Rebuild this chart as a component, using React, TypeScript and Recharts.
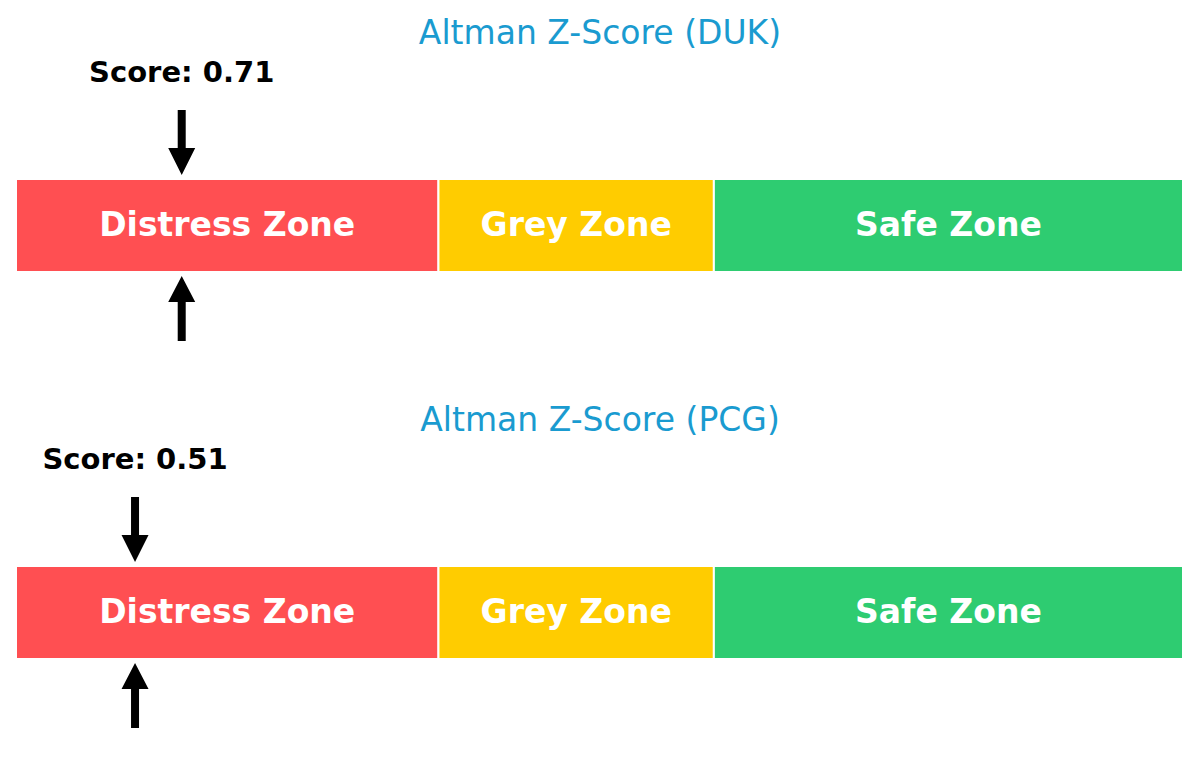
import React from 'react';
import { BarChart, Bar, XAxis, YAxis, ReferenceLine, LabelList } from 'recharts';

const companies = ['DUK', 'PCG'];
const scores = [0.71, 0.51];
const zoneKeys = ['distress', 'grey', 'safe'];
const zoneNames = ['Distress Zone', 'Grey Zone', 'Safe Zone'];
// Altman thresholds 1.81 and 2.99, scale ends at 5
const zoneWidths = [1.81, 1.18, 2.01];
const zoneColors = ['#ff4f52', '#ffcc00', '#2ecc71'];
const scaleMax = 5;

const FONT = '"DejaVu Sans", Verdana, sans-serif';

const zoneLabel = (text: string) => (props: any) => {
  const { x, y, width, height } = props;
  return (
    <text
      x={Number(x) + Number(width) / 2}
      y={Number(y) + Number(height) / 2 + 10}
      textAnchor="middle"
      fill="#ffffff"
      fontFamily={FONT}
      fontWeight="bold"
      fontSize={33}
    >
      {text}
    </text>
  );
};

// arrows above and below the bar, pointing at the score
const ScoreMarker = (props: any) => {
  const { x1, y1, y2, score } = props;
  const cx = Number(x1);
  const top = Math.min(Number(y1), Number(y2));
  const bot = Math.max(Number(y1), Number(y2));
  const down = `M${cx - 4},${top - 69} L${cx + 4},${top - 69} L${cx + 4},${top - 31} L${cx + 13.5},${top - 31} L${cx},${top - 4} L${cx - 13.5},${top - 31} L${cx - 4},${top - 31} Z`;
  const up = `M${cx - 4},${bot + 69} L${cx + 4},${bot + 69} L${cx + 4},${bot + 30} L${cx + 13.5},${bot + 30} L${cx},${bot + 4} L${cx - 13.5},${bot + 30} L${cx - 4},${bot + 30} Z`;
  return (
    <g>
      <text
        x={cx}
        y={top - 97}
        textAnchor="middle"
        fill="#000"
        fontFamily={FONT}
        fontWeight="bold"
        fontSize={29}
      >
        {`Score: ${score.toFixed(2)}`}
      </text>
      <path d={down} fill="#000" />
      <path d={up} fill="#000" />
    </g>
  );
};

const ZonePanel = ({ company, score }: { company: string; score: number }) => {
  const row: any = { name: company };
  zoneKeys.forEach((k, i) => (row[k] = zoneWidths[i]));
  return (
    <div style={{ position: 'relative', width: 1200, height: 387 }}>
      <div
        style={{
          position: 'absolute',
          top: 16,
          left: 0,
          width: 1200,
          textAlign: 'center',
          fontFamily: FONT,
          fontSize: 33,
          lineHeight: '33px',
          color: '#1a9bd0',
        }}
      >
        {`Altman Z-Score (${company})`}
      </div>
      <BarChart
        width={1200}
        height={387}
        data={[row]}
        layout="vertical"
        margin={{ top: 179, right: 17, bottom: 115, left: 16 }}
        barCategoryGap={0}
      >
        <XAxis type="number" domain={[0, scaleMax]} hide />
        <YAxis type="category" dataKey="name" hide />
        {zoneKeys.map((k, i) => (
          <Bar
            key={k}
            dataKey={k}
            stackId="zones"
            fill={zoneColors[i]}
            stroke="#ffffff"
            strokeWidth={2}
            isAnimationActive={false}
          >
            <LabelList dataKey={k} content={zoneLabel(zoneNames[i])} />
          </Bar>
        ))}
        <ReferenceLine
          x={score}
          ifOverflow="visible"
          shape={(p: any) => <ScoreMarker {...p} score={score} />}
        />
      </BarChart>
    </div>
  );
}

export default function App() {
  return (
    <div style={{ position: 'absolute', left: 0, top: 0, width: 1200, height: 774, background: '#fff' }}>
      {companies.map((c, i) => (
        <ZonePanel key={c} company={c} score={scores[i]} />
      ))}
    </div>
  );
}
